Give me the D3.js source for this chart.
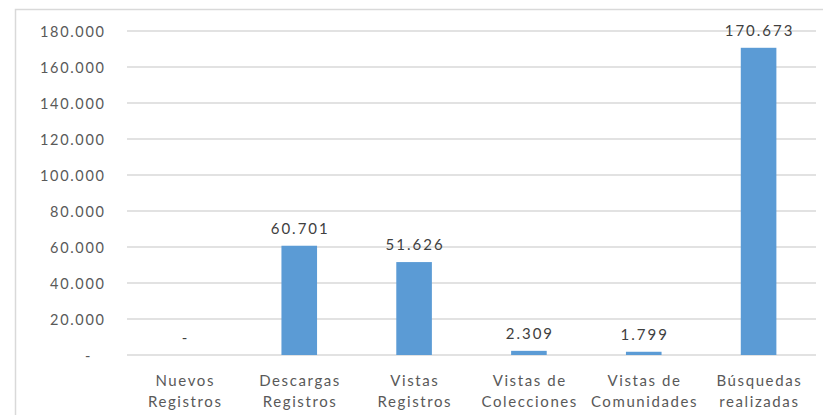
<!DOCTYPE html>
<html><head><meta charset="utf-8">
<script src="https://cdn.jsdelivr.net/npm/d3@7/dist/d3.min.js"></script>
<style>body{margin:0;background:#fff}svg{display:block}</style>
</head><body>
<script>
const categories = [["Nuevos","Registros"],["Descargas","Registros"],["Vistas","Registros"],["Vistas de","Colecciones"],["Vistas de","Comunidades"],["Búsquedas","realizadas"]];
const values = [0, 60701, 51626, 2309, 1799, 170673];
const yTicks = [0,20000,40000,60000,80000,100000,120000,140000,160000,180000];

const W=823,H=415;
const svg=d3.select("body").append("svg").attr("width",W).attr("height",H);
const font="Lato, 'Open Sans', sans-serif";
const fmt=v=> v===0 ? "-" : d3.format(",")(v).replace(/,/g,".");

// frame
svg.append("path").attr("d","M15.5,420 V9.5 H830").attr("fill","none").attr("stroke","#d9d9d9").attr("stroke-width",1.5);

const x=d3.scaleBand().domain(d3.range(categories.length)).range([127,816]).paddingInner(0.69).paddingOuter(0.345);
const y=d3.scaleLinear().domain([0,180000]).range([355,31]);

const g=svg.append("g");
g.selectAll("line.grid").data(yTicks).enter().append("line")
 .attr("x1",127).attr("x2",816).attr("y1",d=>y(d)).attr("y2",d=>y(d))
 .attr("stroke","#d9d9d9").attr("stroke-width",1.5);

const yAxis=d3.axisLeft(y).tickValues(yTicks).tickSize(0).tickPadding(0).tickFormat(fmt);
const ya=svg.append("g").attr("transform","translate(104,0)").call(yAxis);
ya.select(".domain").remove();
ya.selectAll("text").attr("font-family",font).attr("font-size",14.5).attr("letter-spacing","1.7px").attr("fill","#595959").attr("dy","0.35em").attr("x",d=>d===0?-12:1.7);

g.selectAll("rect.bar").data(values).enter().append("rect")
 .attr("x",(d,i)=>x(i)).attr("width",x.bandwidth())
 .attr("y",d=>y(d)).attr("height",d=>y(0)-y(d)).attr("fill","#5b9bd5");

g.selectAll("text.lab").data(values).enter().append("text")
 .attr("x",(d,i)=>x(i)+x.bandwidth()/2+1).attr("y",d=>y(d)-12)
 .attr("text-anchor","middle").attr("font-family",font).attr("font-size",15).attr("letter-spacing","2px").attr("fill","#404040")
 .text(fmt);

const xa=svg.append("g");
categories.forEach((c,i)=>{
  const t=xa.append("text").attr("text-anchor","middle").attr("font-family",font).attr("font-size",15).attr("letter-spacing","1.6px").attr("fill","#595959");
  c.forEach((s,j)=>t.append("tspan").attr("x",x(i)+x.bandwidth()/2+0.8).attr("y",386+j*21).text(s));
});
</script>
</body></html>
